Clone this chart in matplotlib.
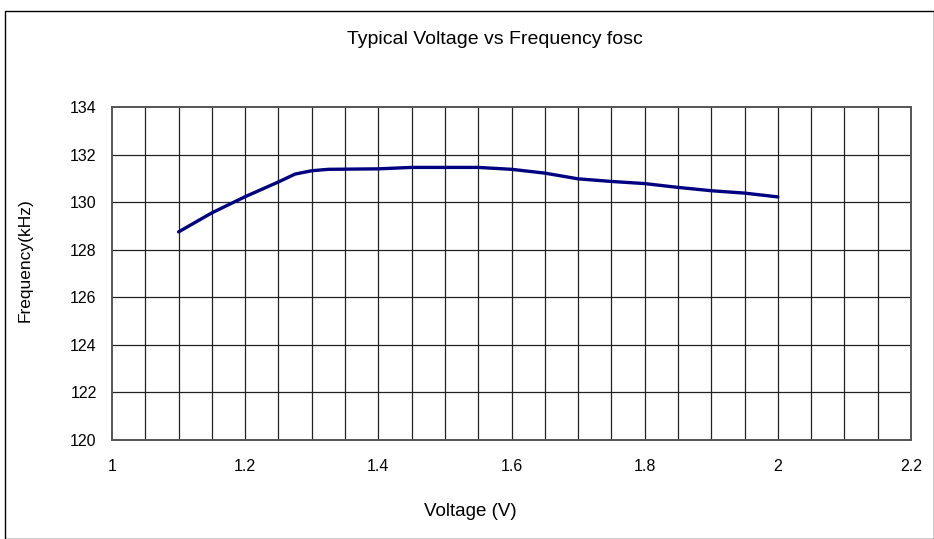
import matplotlib
matplotlib.use("Agg")
import matplotlib.pyplot as plt
from matplotlib.patches import Rectangle
import numpy as np

voltage = [1.1, 1.15, 1.2, 1.25, 1.275, 1.3, 1.325, 1.4, 1.45, 1.55, 1.6, 1.65, 1.7, 1.75, 1.8, 1.85, 1.9, 1.95, 2.0]
frequency = [128.75, 129.55, 130.23, 130.85, 131.18, 131.32, 131.38, 131.40, 131.46, 131.46, 131.38, 131.22, 130.98, 130.87, 130.78, 130.62, 130.48, 130.38, 130.22]

x_ticks = [1, 1.2, 1.4, 1.6, 1.8, 2, 2.2]
x_labels = ["1", "1.2", "1.4", "1.6", "1.8", "2", "2.2"]
y_ticks = [120, 122, 124, 126, 128, 130, 132, 134]

plt.rcParams['font.family'] = ['Liberation Sans', 'DejaVu Sans']

W, H = 934, 539
fig = plt.figure(figsize=(W / 100, H / 100), dpi=100)
ax = fig.add_axes([112 / W, 1 - 440 / H, (911 - 112) / W, (440 - 107) / H])

ax.set_xlim(1, 2.2)
ax.set_ylim(120, 134)

for xv in np.arange(1.05, 2.2, 0.05):
    ax.axvline(xv, color='#222222', lw=0.9, zorder=1)
for yv in y_ticks[1:-1]:
    ax.axhline(yv, color='#222222', lw=0.9, zorder=1)

ax.plot(voltage, frequency, color='#000080', lw=2.4, zorder=3, solid_capstyle='round')

ax.set_xticks(x_ticks)
ax.set_xticklabels(x_labels)
ax.set_yticks(y_ticks)
ax.tick_params(axis='x', length=0, pad=14, labelsize=11.5)
ax.tick_params(axis='y', length=0, pad=11, labelsize=11.5)

for s in ax.spines.values():
    s.set_color('#555555')
    s.set_linewidth(1.4)

fig.text(470 / W, 1 - 512 / H, 'Voltage (V)', ha='center', va='center', fontsize=13.5)
fig.text(25 / W, 1 - 260 / H, 'Frequency(kHz)', ha='center', va='center', rotation=90, fontsize=12.5)
fig.text(495 / W, 1 - 40 / H, 'Typical Voltage vs Frequency fosc', ha='center', va='center', fontsize=14)

fig.patches.append(Rectangle((4.5 / W, 0), (W - 5) / W, (H - 10.5) / H, transform=fig.transFigure,
                             fill=False, edgecolor='black', lw=1.0))

fig.savefig('out.png', dpi=100)
